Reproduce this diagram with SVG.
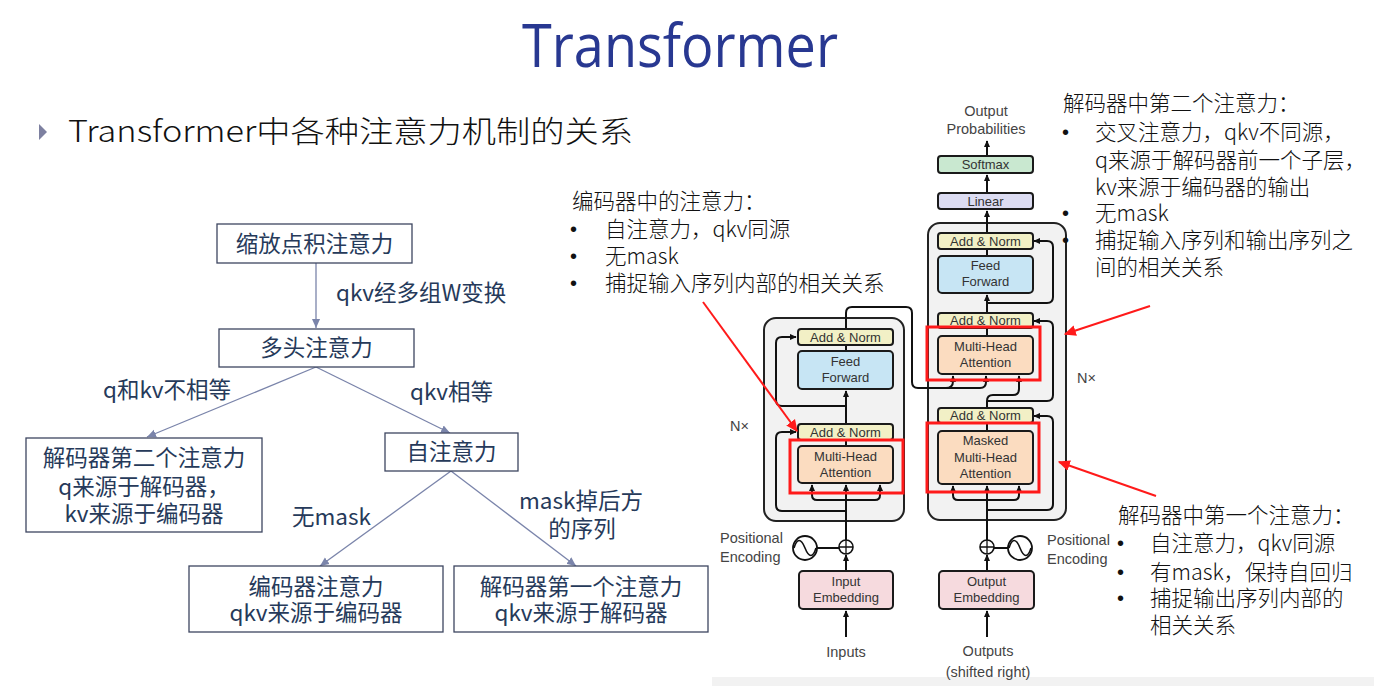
<svg xmlns="http://www.w3.org/2000/svg" width="1374" height="686" viewBox="0 0 1374 686">
<defs>
<style>
.cjk{font-family:"Noto Sans CJK SC","Noto Sans",sans-serif;}
.tt{font-family:"Noto Sans CJK SC",sans-serif;font-size:22.5px;fill:#263a5a;}
.tb{fill:#fff;stroke:#3d4660;stroke-width:1.3;}
.tl{stroke:#7a84aa;stroke-width:1.3;fill:none;}
.an{font-family:"Noto Sans CJK SC",sans-serif;font-size:21.5px;font-weight:300;fill:#111;}
.bu{font-family:"Liberation Sans",Arial,sans-serif;font-size:20px;fill:#111;}
.blk{fill:#f2f2f2;stroke:#222;stroke-width:2;}
.bx{stroke:#1a1a1a;stroke-width:2;}
.an13{font-family:"Liberation Sans",Arial,sans-serif;font-size:13px;fill:#333;text-anchor:middle;}
.lbl{font-family:"Liberation Sans",Arial,sans-serif;font-size:14.5px;fill:#444;}
.ln{stroke:#111;stroke-width:2;fill:none;}
.red{stroke:#ff1a1a;stroke-width:3;fill:none;}
.ra{stroke:#ff1a1a;stroke-width:2;fill:none;}
.yel{fill:#f2f0c6;}
.blu{fill:#c7e5f4;}
.pch{fill:#fbdcc0;}
.pnk{fill:#f6dade;}
.lav{fill:#dcdcf2;}
.grn{fill:#c9e8d0;}
</style>
<marker id="ta" viewBox="0 0 10 10" refX="10" refY="5" markerWidth="9" markerHeight="9" markerUnits="userSpaceOnUse" orient="auto"><path d="M0,0.5 L10,5 L0,9.5 z" fill="#7a84aa"/></marker>
<marker id="ba" viewBox="0 0 10 10" refX="9" refY="5" markerWidth="7" markerHeight="7" markerUnits="userSpaceOnUse" orient="auto-start-reverse"><path d="M0,0.5 L10,5 L0,9.5 z" fill="#111"/></marker>
<marker id="ra" viewBox="0 0 10 10" refX="9" refY="5" markerWidth="12" markerHeight="12" markerUnits="userSpaceOnUse" orient="auto"><path d="M0,0.5 L10,5 L0,9.5 z" fill="#ff1a1a"/></marker>
</defs>

<rect x="0" y="0" width="1374" height="686" fill="#fff"/>
<rect x="712" y="677" width="662" height="9" fill="#f2f2f2"/>

<g id="title">
<text x="680" y="67" text-anchor="middle" font-family="'Open Sans','Noto Sans',sans-serif" font-size="60" fill="#283891" textLength="316" lengthAdjust="spacingAndGlyphs">Transformer</text>
</g>
<g id="subtitle">
<path d="M39,124 L47,132 L39,140 z" fill="#7d80a0"/>
<text x="68" y="142" class="cjk" font-size="30" font-weight="300" fill="#111" textLength="565" lengthAdjust="spacingAndGlyphs">Transformer中各种注意力机制的关系</text>
</g>

<g id="tree-connectors">
<line class="tl" x1="316" y1="263" x2="316" y2="328" marker-end="url(#ta)"/>
<line class="tl" x1="316" y1="367" x2="147" y2="437" marker-end="url(#ta)"/>
<line class="tl" x1="316" y1="367" x2="450" y2="433" marker-end="url(#ta)"/>
<line class="tl" x1="451" y1="471" x2="320" y2="566" marker-end="url(#ta)"/>
<line class="tl" x1="451" y1="471" x2="576" y2="566" marker-end="url(#ta)"/>
<text class="tt" x="336" y="301">qkv经多组W变换</text>
<text class="tt" x="103" y="398">q和kv不相等</text>
<text class="tt" x="410" y="400">qkv相等</text>
<text class="tt" x="292" y="525">无mask</text>
<text class="tt" x="519" y="509">mask掉后方</text>
<text class="tt" x="582" y="537" text-anchor="middle">的序列</text>
</g>

<g id="n-scaled">
<rect class="tb" x="217" y="224" width="195" height="39"/>
<text class="tt" x="314.5" y="252" text-anchor="middle">缩放点积注意力</text>
</g>
<g id="n-multihead">
<rect class="tb" x="219" y="329" width="195" height="38"/>
<text class="tt" x="316.5" y="356" text-anchor="middle">多头注意力</text>
</g>
<g id="n-dec2">
<rect class="tb" x="26" y="438" width="236" height="94"/>
<text class="tt" x="144" y="466" text-anchor="middle">解码器第二个注意力</text>
<text class="tt" x="144" y="495" text-anchor="middle">q来源于解码器，</text>
<text class="tt" x="144" y="522" text-anchor="middle">kv来源于编码器</text>
</g>
<g id="n-self">
<rect class="tb" x="385" y="433" width="133" height="38"/>
<text class="tt" x="451.5" y="460" text-anchor="middle">自注意力</text>
</g>
<g id="n-enc">
<rect class="tb" x="189" y="566" width="254" height="66"/>
<text class="tt" x="316" y="595" text-anchor="middle">编码器注意力</text>
<text class="tt" x="316" y="621" text-anchor="middle">qkv来源于编码器</text>
</g>
<g id="n-dec1">
<rect class="tb" x="454" y="566" width="254" height="66"/>
<text class="tt" x="581" y="595" text-anchor="middle">解码器第一个注意力</text>
<text class="tt" x="581" y="621" text-anchor="middle">qkv来源于解码器</text>
</g>

<g id="encoder-block">
<rect class="blk" x="764" y="318" width="140" height="203" rx="12"/>
</g>
<g id="decoder-block">
<rect class="blk" x="928" y="223" width="138" height="297" rx="12"/>
</g>

<g id="t-connectors">
<path class="ln" d="M846,637 V611" marker-end="url(#ba)"/>
<path class="ln" d="M846,571 V555" marker-end="url(#ba)"/>
<line class="ln" x1="817" y1="548" x2="839" y2="548"/>
<path class="ln" d="M846,540 V485" marker-end="url(#ba)"/>
<path class="ln" d="M812,485 V495 Q812,500 817,500 H875 Q880,500 880,495 V485" marker-start="url(#ba)" marker-end="url(#ba)"/>
<path class="ln" d="M846,511 H782 Q776,511 776,505 V438 Q776,432 782,432 H796" marker-end="url(#ba)"/>
<path class="ln" d="M846,446 V440"/>
<path class="ln" d="M846,424 V391" marker-end="url(#ba)"/>
<path class="ln" d="M846,406 H782 Q776,406 776,400 V343 Q776,337 782,337 H796" marker-end="url(#ba)"/>
<path class="ln" d="M846,351 V345"/>
<path class="ln" d="M846,329 V313 Q846,307 852,307 H906 Q912,307 912,313 V382 Q912,388 918,388 H946 Q953,388 953,381 V376" marker-end="url(#ba)"/>
<path class="ln" d="M946,388 H980 Q986,388 986,382 V376" marker-end="url(#ba)"/>
<path class="ln" d="M987,637 V611" marker-end="url(#ba)"/>
<path class="ln" d="M987,571 V555" marker-end="url(#ba)"/>
<line class="ln" x1="994" y1="548" x2="1008" y2="548"/>
<path class="ln" d="M987,540 V486" marker-end="url(#ba)"/>
<path class="ln" d="M953,486 V495 Q953,500 958,500 H1014 Q1019,500 1019,495 V486" marker-start="url(#ba)" marker-end="url(#ba)"/>
<path class="ln" d="M987,510 H1047 Q1053,510 1053,504 V422 Q1053,416 1047,416 H1034" marker-end="url(#ba)"/>
<path class="ln" d="M987,431 V423"/>
<path class="ln" d="M987,408 V401 Q987,395 993,395 H1013 Q1019,395 1019,389 V376" marker-end="url(#ba)"/>
<path class="ln" d="M987,401 H1047 Q1053,401 1053,395 V327 Q1053,321 1047,321 H1034" marker-end="url(#ba)"/>
<path class="ln" d="M987,336 V328"/>
<path class="ln" d="M987,313 V295" marker-end="url(#ba)"/>
<path class="ln" d="M987,303 H1047 Q1053,303 1053,297 V247 Q1053,241 1047,241 H1034" marker-end="url(#ba)"/>
<path class="ln" d="M987,256 V249"/>
<path class="ln" d="M987,233 V211" marker-end="url(#ba)"/>
<path class="ln" d="M987,193 V175" marker-end="url(#ba)"/>
<path class="ln" d="M987,156 V141" marker-end="url(#ba)"/>
</g>

<g id="enc-addnorm2">
<rect class="bx yel" x="798" y="329" width="95" height="16" rx="3"/>
<text class="an13" x="845.5" y="342">Add &amp; Norm</text>
</g>
<g id="enc-ff">
<rect class="bx blu" x="798" y="351" width="95" height="38" rx="4"/>
<text class="an13" x="845.5" y="366">Feed</text>
<text class="an13" x="845.5" y="382">Forward</text>
</g>
<g id="enc-addnorm1">
<rect class="bx yel" x="798" y="424" width="95" height="16" rx="3"/>
<text class="an13" x="845.5" y="437">Add &amp; Norm</text>
</g>
<g id="enc-mha">
<rect class="bx pch" x="798" y="446" width="95" height="37" rx="4"/>
<text class="an13" x="845.5" y="461">Multi-Head</text>
<text class="an13" x="845.5" y="477">Attention</text>
<rect class="red" x="790" y="440" width="113" height="53"/>
</g>
<g id="enc-embed">
<rect class="bx pnk" x="799" y="571" width="94" height="38" rx="4"/>
<text class="an13" x="846" y="586">Input</text>
<text class="an13" x="846" y="602">Embedding</text>
</g>
<g id="enc-pe">
<circle cx="846" cy="547" r="7" fill="#fff" stroke="#111" stroke-width="1.6"/>
<path d="M839,547 H853 M846,540 V554" stroke="#111" stroke-width="1.3"/>
<circle cx="805" cy="548" r="12" fill="#fff" stroke="#111" stroke-width="1.8"/>
<path d="M794,548 C797,538 801,538 805,548 S813,558 816,548" fill="none" stroke="#111" stroke-width="1.6"/>
<text class="lbl" x="720" y="543">Positional</text>
<text class="lbl" x="720" y="562">Encoding</text>
</g>
<g id="enc-io">
<text class="lbl" x="846" y="657" text-anchor="middle">Inputs</text>
<text class="lbl" x="730" y="431">N×</text>
</g>

<g id="dec-softmax">
<rect class="bx grn" x="938" y="156" width="95" height="17" rx="3"/>
<text class="an13" x="985.5" y="169">Softmax</text>
</g>
<g id="dec-linear">
<rect class="bx lav" x="938" y="193" width="95" height="16" rx="3"/>
<text class="an13" x="985.5" y="206">Linear</text>
</g>
<g id="dec-addnorm3">
<rect class="bx yel" x="938" y="233" width="95" height="16" rx="3"/>
<text class="an13" x="985.5" y="246">Add &amp; Norm</text>
</g>
<g id="dec-ff">
<rect class="bx blu" x="938" y="256" width="95" height="37" rx="4"/>
<text class="an13" x="985.5" y="270">Feed</text>
<text class="an13" x="985.5" y="286">Forward</text>
</g>
<g id="dec-addnorm2">
<rect class="bx yel" x="938" y="313" width="95" height="15" rx="3"/>
<text class="an13" x="985.5" y="325">Add &amp; Norm</text>
</g>
<g id="dec-mha">
<rect class="bx pch" x="938" y="336" width="95" height="38" rx="4"/>
<text class="an13" x="985.5" y="351">Multi-Head</text>
<text class="an13" x="985.5" y="367">Attention</text>
<rect class="red" x="927" y="327" width="113" height="53"/>
</g>
<g id="dec-addnorm1">
<rect class="bx yel" x="938" y="408" width="95" height="15" rx="3"/>
<text class="an13" x="985.5" y="420">Add &amp; Norm</text>
</g>
<g id="dec-mmha">
<rect class="bx pch" x="938" y="431" width="95" height="53" rx="4"/>
<text class="an13" x="985.5" y="445">Masked</text>
<text class="an13" x="985.5" y="462">Multi-Head</text>
<text class="an13" x="985.5" y="478">Attention</text>
<rect class="red" x="927" y="423" width="112" height="69"/>
</g>
<g id="dec-embed">
<rect class="bx pnk" x="939" y="571" width="95" height="38" rx="4"/>
<text class="an13" x="986.5" y="586">Output</text>
<text class="an13" x="986.5" y="602">Embedding</text>
</g>
<g id="dec-pe">
<circle cx="987" cy="547" r="7" fill="#fff" stroke="#111" stroke-width="1.6"/>
<path d="M980,547 H994 M987,540 V554" stroke="#111" stroke-width="1.3"/>
<circle cx="1020" cy="548" r="12" fill="#fff" stroke="#111" stroke-width="1.8"/>
<path d="M1009,548 C1012,538 1016,538 1020,548 S1028,558 1031,548" fill="none" stroke="#111" stroke-width="1.6"/>
<text class="lbl" x="1047" y="545">Positional</text>
<text class="lbl" x="1047" y="564">Encoding</text>
</g>
<g id="dec-io">
<text class="lbl" x="988" y="656" text-anchor="middle">Outputs</text>
<text class="lbl" x="988" y="677" text-anchor="middle">(shifted right)</text>
<text class="lbl" x="986" y="116" text-anchor="middle">Output</text>
<text class="lbl" x="986" y="134" text-anchor="middle">Probabilities</text>
<text class="lbl" x="1077" y="383">N×</text>
</g>

<g id="red-arrows">
<line class="ra" x1="703" y1="302" x2="797" y2="431" marker-end="url(#ra)"/>
<line class="ra" x1="1150" y1="306" x2="1065" y2="334" marker-end="url(#ra)"/>
<line class="ra" x1="1156" y1="496" x2="1059" y2="462" marker-end="url(#ra)"/>
</g>

<g id="note-encoder">
<text class="an" x="572" y="209">编码器中的注意力：</text>
<text class="bu" x="570" y="236">•</text><text class="an" x="605" y="237">自注意力，qkv同源</text>
<text class="bu" x="570" y="263">•</text><text class="an" x="605" y="264">无mask</text>
<text class="bu" x="570" y="290">•</text><text class="an" x="605" y="291">捕捉输入序列内部的相关关系</text>
</g>
<g id="note-dec2">
<text class="an" x="1063" y="111">解码器中第二个注意力：</text>
<text class="bu" x="1062" y="139">•</text><text class="an" x="1095" y="140">交叉注意力，qkv不同源，</text>
<text class="an" x="1095" y="168">q来源于解码器前一个子层，</text>
<text class="an" x="1095" y="195">kv来源于编码器的输出</text>
<text class="bu" x="1062" y="220">•</text><text class="an" x="1095" y="221">无mask</text>
<text class="bu" x="1062" y="247">•</text><text class="an" x="1095" y="248">捕捉输入序列和输出序列之</text>
<text class="an" x="1095" y="275">间的相关关系</text>
</g>
<g id="note-dec1">
<text class="an" x="1118" y="523">解码器中第一个注意力：</text>
<text class="bu" x="1117" y="550">•</text><text class="an" x="1150" y="551">自注意力，qkv同源</text>
<text class="bu" x="1117" y="579">•</text><text class="an" x="1150" y="580">有mask，保持自回归</text>
<text class="bu" x="1117" y="605">•</text><text class="an" x="1150" y="606">捕捉输出序列内部的</text>
<text class="an" x="1150" y="633">相关关系</text>
</g>
</svg>
